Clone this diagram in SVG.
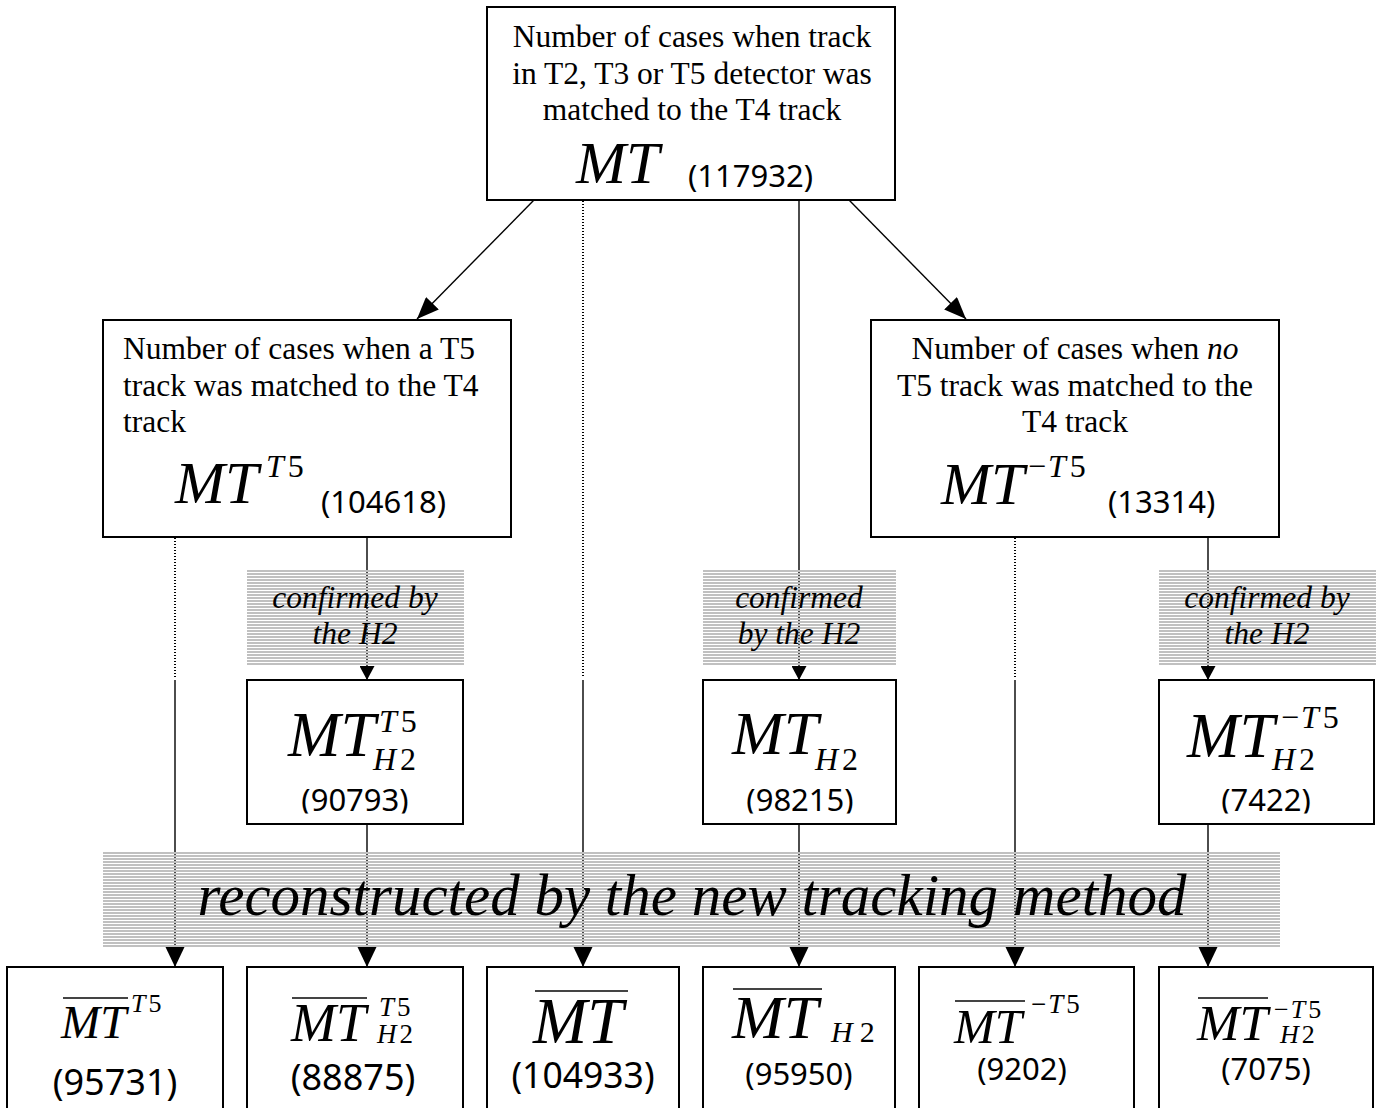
<svg xmlns="http://www.w3.org/2000/svg" width="1379" height="1108" viewBox="0 0 1379 1108">
<defs>
<style>
.box{fill:#fff;stroke:#000;stroke-width:2}
.t{font-family:"Liberation Serif","Times New Roman",serif;font-size:31.5px;fill:#000}
.i{font-style:italic}
.mt{font-family:"Liberation Serif","Times New Roman",serif;font-style:italic;fill:#000}
.up{font-style:normal}
.n{font-family:"Noto Sans","Open Sans",sans-serif;fill:#000}
.ln{stroke:#000;stroke-width:1.4;fill:none}
.dot{stroke:#000;stroke-width:1.5;stroke-dasharray:1 2;fill:none;shape-rendering:crispEdges}
.ov{stroke:#444;stroke-width:1.8}
.band{fill:url(#stripes)}
.bt{font-family:"Liberation Serif","Times New Roman",serif;font-style:italic;fill:#000}
</style>
<pattern id="stripes" x="0" y="0" width="8" height="3" patternUnits="userSpaceOnUse">
<rect x="0" y="0" width="8" height="2" fill="#c0c0c0"/>
</pattern>
<marker id="aBig" markerUnits="userSpaceOnUse" markerWidth="20" markerHeight="20" refX="20" refY="9.5" orient="auto" viewBox="0 0 20 19">
<path d="M0,0 L20,9.5 L0,19 Z" fill="#000"/>
</marker>
<marker id="aSmall" markerUnits="userSpaceOnUse" markerWidth="14" markerHeight="15" refX="14" refY="7.5" orient="auto" viewBox="0 0 14 15">
<path d="M0,0 L14,7.5 L0,15 Z" fill="#000"/>
</marker>
<marker id="aDiag" markerUnits="userSpaceOnUse" markerWidth="22" markerHeight="18" refX="22" refY="9" orient="auto" viewBox="0 0 22 18">
<path d="M0,0 L22,9 L0,18 Z" fill="#000"/>
</marker>
<clipPath id="clipMid" clipPathUnits="userSpaceOnUse"><rect x="0" y="680" width="1379" height="133.5"/></clipPath>
<clipPath id="clipB4" clipPathUnits="userSpaceOnUse"><rect x="700" y="960" width="175" height="150"/></clipPath>
</defs>

<rect x="0" y="0" width="1379" height="1108" fill="#fff"/>

<!-- Nodes -->
<g id="n-mt">
<rect class="box" x="487" y="7" width="408" height="193"/>
<text class="t" text-anchor="middle"><tspan x="692" y="47">Number of cases when track</tspan><tspan x="692" y="84">in T2, T3 or T5 detector was</tspan><tspan x="692" y="120">matched to the T4 track</tspan></text>
<text class="mt" x="576" y="183" font-size="60">MT</text>
<text class="n" x="688" y="187" font-size="31">(117932)</text>
</g>

<g id="n-mt-t5">
<rect class="box" x="103" y="320" width="408" height="217"/>
<text class="t"><tspan x="123" y="359">Number of cases when a T5</tspan><tspan x="123" y="396">track was matched to the T4</tspan><tspan x="123" y="432">track</tspan></text>
<text class="mt" x="175" y="503" font-size="60">MT</text>
<text class="mt" x="266" y="477" font-size="32">T<tspan class="up" dx="4">5</tspan></text>
<text class="n" x="321" y="513" font-size="31">(104618)</text>
</g>

<g id="n-mt-not-t5">
<rect class="box" x="871" y="320" width="408" height="217"/>
<text class="t" text-anchor="middle"><tspan x="1075" y="359">Number of cases when <tspan class="i">no</tspan></tspan><tspan x="1075" y="396">T5 track was matched to the</tspan><tspan x="1075" y="432">T4 track</tspan></text>
<text class="mt" x="941" y="504" font-size="60">MT</text>
<text class="mt" x="1028" y="477" font-size="32"><tspan class="up">−</tspan><tspan dx="2">T</tspan><tspan class="up" dx="4">5</tspan></text>
<text class="n" x="1108" y="513" font-size="31">(13314)</text>
</g>

<g id="n-mt-t5-h2">
<rect class="box" x="247" y="680" width="216" height="144"/>
<text class="mt" x="288" y="756" font-size="63">MT</text>
<text class="mt" x="379" y="732" font-size="32">T<tspan class="up" dx="4">5</tspan></text>
<text class="mt" x="373" y="770" font-size="32">H<tspan class="up" dx="4">2</tspan></text>
<text class="n" x="355" y="811" font-size="31" text-anchor="middle" clip-path="url(#clipMid)">(90793)</text>
</g>

<g id="n-mt-h2">
<rect class="box" x="703" y="680" width="193" height="144"/>
<text class="mt" x="732" y="754" font-size="62">MT</text>
<text class="mt" x="815" y="770" font-size="32">H<tspan class="up" dx="4">2</tspan></text>
<text class="n" x="800" y="811" font-size="31" text-anchor="middle" clip-path="url(#clipMid)">(98215)</text>
</g>

<g id="n-mt-not-t5-h2">
<rect class="box" x="1159" y="680" width="215" height="144"/>
<text class="mt" x="1187" y="757" font-size="63">MT</text>
<text class="mt" x="1281" y="728" font-size="32"><tspan class="up">−</tspan><tspan dx="2">T</tspan><tspan class="up" dx="4">5</tspan></text>
<text class="mt" x="1272" y="770" font-size="32">H<tspan class="up" dx="4">2</tspan></text>
<text class="n" x="1266" y="811" font-size="31" text-anchor="middle" clip-path="url(#clipMid)">(7422)</text>
</g>

<g id="n-rec-mt-t5">
<rect class="box" x="7" y="967" width="216" height="160"/>
<line class="ov" x1="63" y1="998" x2="128" y2="998"/>
<text class="mt" x="61" y="1038" font-size="47">MT</text>
<text class="mt" x="131" y="1012" font-size="26">T<tspan class="up" dx="3">5</tspan></text>
<text class="n" x="115" y="1095" font-size="36" text-anchor="middle">(95731)</text>
</g>

<g id="n-rec-mt-t5-h2">
<rect class="box" x="247" y="967" width="216" height="160"/>
<line class="ov" x1="292" y1="998" x2="367" y2="998"/>
<text class="mt" x="291" y="1041" font-size="54">MT</text>
<text class="mt" x="379" y="1016" font-size="27">T<tspan class="up" dx="3">5</tspan></text>
<text class="mt" x="377" y="1043" font-size="27">H<tspan class="up" dx="3">2</tspan></text>
<text class="n" x="353" y="1090" font-size="36" text-anchor="middle">(88875)</text>
</g>

<g id="n-rec-mt">
<rect class="box" x="487" y="967" width="192" height="160"/>
<line class="ov" x1="535" y1="991" x2="628" y2="991"/>
<text class="mt" x="533" y="1043" font-size="65">MT</text>
<text class="n" x="583" y="1088" font-size="35.5" text-anchor="middle">(104933)</text>
</g>

<g id="n-rec-mt-h2">
<rect class="box" x="703" y="967" width="192" height="160"/>
<line class="ov" x1="733" y1="989" x2="822" y2="989"/>
<text class="mt" x="732" y="1038" font-size="62">MT</text>
<text class="mt" x="831" y="1042" font-size="30" clip-path="url(#clipB4)">H<tspan class="up" dx="7">2</tspan></text>
<text class="n" x="799" y="1085" font-size="31" text-anchor="middle">(95950)</text>
</g>

<g id="n-rec-mt-not-t5">
<rect class="box" x="919" y="967" width="215" height="160"/>
<line class="ov" x1="955" y1="1001" x2="1025" y2="1001"/>
<text class="mt" x="954" y="1043" font-size="49">MT</text>
<text class="mt" x="1031" y="1013" font-size="27"><tspan class="up">−</tspan><tspan dx="2">T</tspan><tspan class="up" dx="3">5</tspan></text>
<text class="n" x="1022" y="1080" font-size="31" text-anchor="middle">(9202)</text>
</g>

<g id="n-rec-mt-not-t5-h2">
<rect class="box" x="1159" y="967" width="214" height="160"/>
<line class="ov" x1="1198" y1="998" x2="1268" y2="998"/>
<text class="mt" x="1197" y="1040" font-size="51">MT</text>
<text class="mt" x="1274" y="1018" font-size="26"><tspan class="up">−</tspan><tspan dx="2">T</tspan><tspan class="up" dx="3">5</tspan></text>
<text class="mt" x="1280" y="1043" font-size="26">H<tspan class="up" dx="3">2</tspan></text>
<text class="n" x="1266" y="1080" font-size="31" text-anchor="middle">(7075)</text>
</g>

<!-- Connectors -->
<g id="connectors">
<line class="ln" x1="534" y1="200" x2="417" y2="319" marker-end="url(#aDiag)"/>
<line class="ln" x1="849" y1="200" x2="966" y2="319" marker-end="url(#aDiag)"/>
<line class="dot" x1="583" y1="201" x2="583" y2="677"/>
<line class="ln" x1="583" y1="680" x2="583" y2="967" marker-end="url(#aBig)"/>
<line class="ln" x1="799" y1="200" x2="799" y2="680" marker-end="url(#aSmall)"/>
<line class="ln" x1="799" y1="824" x2="799" y2="967" marker-end="url(#aBig)"/>
<line class="ln" x1="367" y1="537" x2="367" y2="680" marker-end="url(#aSmall)"/>
<line class="ln" x1="367" y1="824" x2="367" y2="967" marker-end="url(#aBig)"/>
<line class="ln" x1="1208" y1="537" x2="1208" y2="680" marker-end="url(#aSmall)"/>
<line class="ln" x1="1208" y1="824" x2="1208" y2="967" marker-end="url(#aBig)"/>
<line class="dot" x1="175" y1="538" x2="175" y2="677"/>
<line class="ln" x1="175" y1="680" x2="175" y2="967" marker-end="url(#aBig)"/>
<line class="dot" x1="1015" y1="538" x2="1015" y2="677"/>
<line class="ln" x1="1015" y1="680" x2="1015" y2="967" marker-end="url(#aBig)"/>
</g>

<!-- Shaded labels -->
<g id="band-confirmed-left">
<rect class="band" x="247" y="570" width="217" height="96"/>
<text class="bt" font-size="31.5" text-anchor="middle"><tspan x="355" y="608">confirmed by</tspan><tspan x="355" y="644">the H2</tspan></text>
</g>
<g id="band-confirmed-mid">
<rect class="band" x="703" y="570" width="193" height="96"/>
<text class="bt" font-size="31.5" text-anchor="middle"><tspan x="799" y="608">confirmed</tspan><tspan x="799" y="644">by the H2</tspan></text>
</g>
<g id="band-confirmed-right">
<rect class="band" x="1159" y="570" width="217" height="96"/>
<text class="bt" font-size="31.5" text-anchor="middle"><tspan x="1267" y="608">confirmed by</tspan><tspan x="1267" y="644">the H2</tspan></text>
</g>
<g id="band-reconstructed">
<rect class="band" x="103" y="852" width="1177" height="95"/>
<text class="bt" x="692" y="915" font-size="59" text-anchor="middle">reconstructed by the new tracking method</text>
</g>
</svg>
